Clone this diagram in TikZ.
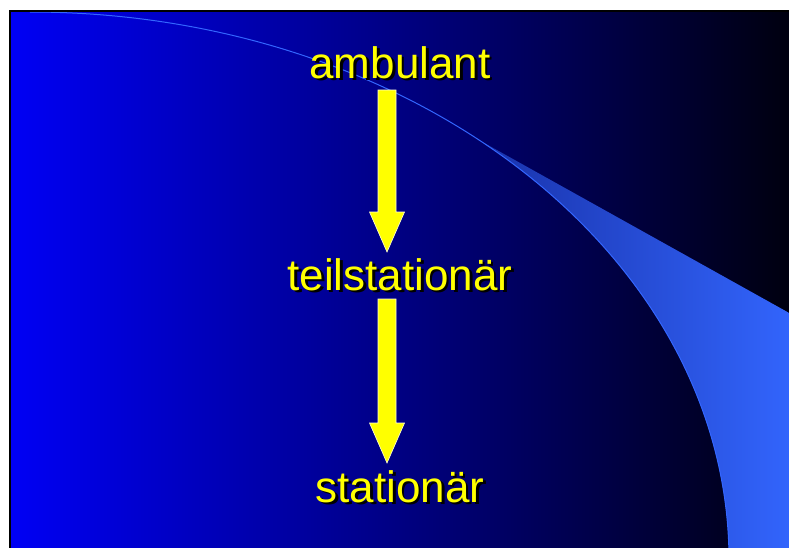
\documentclass[tikz,border=0pt]{standalone}
\usepackage{fontspec}
\setmainfont{Liberation Sans}
\usepackage{tikz}
\usetikzlibrary{calc}
\definecolor{slideBlue}{RGB}{0,0,245}
\definecolor{slideMid}{RGB}{0,0,140}
\definecolor{slideDark}{RGB}{0,0,12}
\definecolor{swooshLight}{RGB}{51,102,255}
\definecolor{swooshDim}{RGB}{25,50,170}
\definecolor{stageYellow}{RGB}{255,255,0}
\tikzset{
  stagetext/.style={
    font=\fontsize{44}{50}\selectfont,
    text=stageYellow,
    inner sep=0pt,
    anchor=base
  },
  blockarrow/.style={
    draw=white!85!stageYellow,
    fill=stageYellow,
    line width=0.6pt,
    line join=miter
  },
  swooshline/.style={draw=swooshLight, line width=1pt}
}
% Text mit schwarzem Schatten
\newcommand\shadowtext[1]{%
  \makebox[0pt][l]{\hspace{2.5pt}\raisebox{-2.5pt}{\color{black}#1}}#1}
% Blockpfeil von Koordinate #1 (oben) bis Spitze #2
\newcommand\blockarrow[2]{%
  \draw[blockarrow] ($(#1)+(-9,0)$) -- ($(#2)+(-9,-40)$) -- ($(#2)+(-17.5,-40)$)
    -- (#2) -- ($(#2)+(17.5,-40)$) -- ($(#2)+(9,-40)$) -- ($(#1)+(9,0)$) -- cycle;}
\begin{document}
\begin{tikzpicture}[x=1pt, y=-1pt]
  \useasboundingbox (0,0) rectangle (789,547);
  % Hintergrund
  \shade[left color=slideBlue, middle color=slideMid, right color=slideDark] (10,11) rectangle (800,560);
  \begin{scope}
    \clip (10,11) rectangle (800,560);
    \shade[left color=swooshDim, right color=swooshLight]
      (729,560) arc[start angle=0, end angle=-50, x radius=699, y radius=548]
      -- (800,319) -- (800,560) -- cycle;
    \draw[swooshline] (30,12) arc[start angle=-90, end angle=0, x radius=699, y radius=548];
  \end{scope}
  \draw[black, line width=2pt] (10,560) -- (10,11) -- (800,11);
  % Stufen
  \node[stagetext] (amb) at (400,78) {\shadowtext{ambulant}};
  \node[stagetext] (teil) at (400,290) {\shadowtext{teilstationär}};
  \node[stagetext] (stat) at (400,502) {\shadowtext{stationär}};
  % Pfeile
  \coordinate (a1top) at ($(amb.base)+(-13,12)$);
  \coordinate (a1tip) at ($(teil.base)+(-13,-38)$);
  \coordinate (a2top) at ($(teil.base)+(-13,9)$);
  \coordinate (a2tip) at ($(stat.base)+(-13,-39)$);
  \blockarrow{a1top}{a1tip}
  \blockarrow{a2top}{a2tip}
\end{tikzpicture}
\end{document}
